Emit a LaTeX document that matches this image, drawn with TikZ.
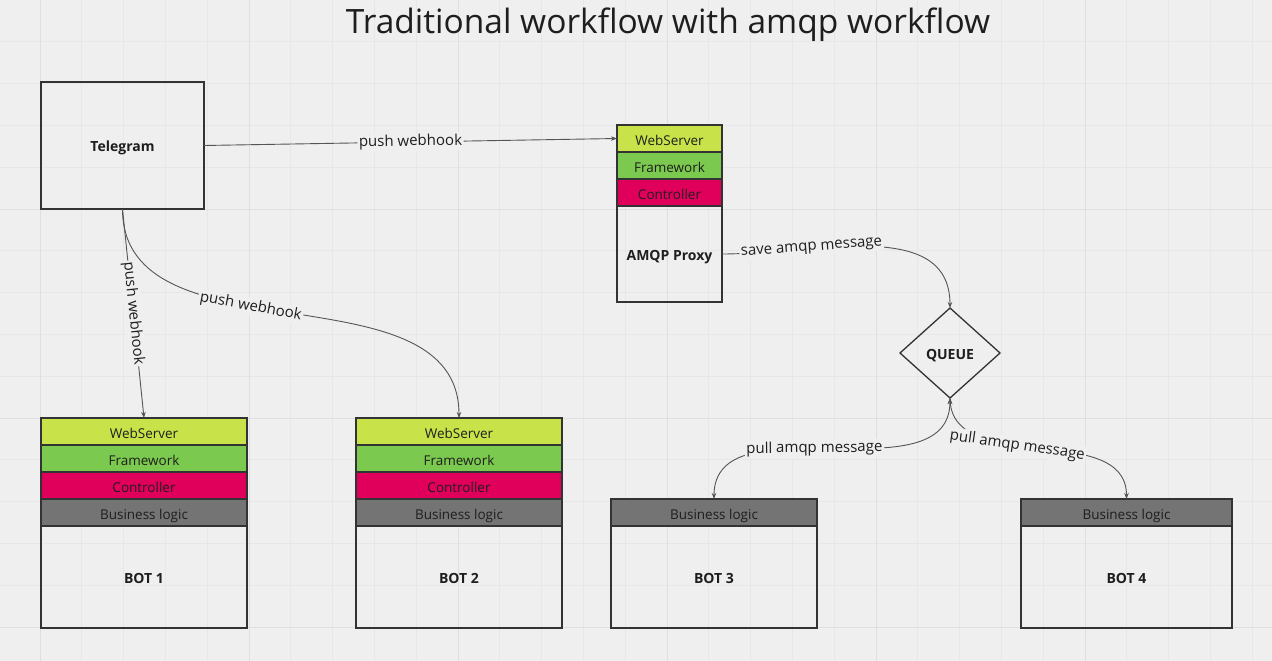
\documentclass[tikz,border=0pt]{standalone}
\usepackage{fontspec}
\setmainfont{Open Sans}
\usepackage{tikz}
\usetikzlibrary{positioning,arrows.meta,shapes.geometric}

\definecolor{bg}{HTML}{EFEFEF}
\definecolor{gridminor}{HTML}{E7E7E7}
\definecolor{gridmajor}{HTML}{DFDFDF}
\definecolor{edge}{HTML}{333333}
\definecolor{wire}{HTML}{555555}
\definecolor{ink}{HTML}{1E1E1E}
\definecolor{webserver}{HTML}{C8E34A}
\definecolor{framework}{HTML}{7BC94E}
\definecolor{controller}{HTML}{E0005B}
\definecolor{business}{HTML}{747474}

\begin{document}
\begin{tikzpicture}[x=1pt,y=-1pt,>={Stealth[length=6pt,width=4.5pt]},
  box/.style={draw=edge,line width=1.3pt,outer sep=0pt,text=ink,text height=12pt,text depth=0pt,
    font=\fontsize{14}{16}\selectfont\bfseries},
  layer/.style={box,font=\fontsize{13.5}{15}\selectfont,text height=13pt,minimum height=27pt,inner sep=0pt},
  flow/.style={draw=wire,line width=0.9pt,->},
  lbl/.style={font=\fontsize{15}{17}\selectfont,fill=bg,inner sep=1.5pt,text=ink,sloped}]

\useasboundingbox[fill=bg] (0,0) rectangle (1272,661);
\foreach \k in {-1,...,29} \draw[gridminor,line width=0.8pt] ({40+41.8*\k},0) -- ++(0,661);
\foreach \k in {1,...,15} \draw[gridminor,line width=0.8pt] (0,{41.8*\k}) -- ++(1272,0);
\foreach \k in {0,...,5} \draw[gridmajor,line width=1pt] ({40+209*\k},0) -- ++(0,661);
\foreach \k in {0,...,3} \draw[gridmajor,line width=1pt] (0,{209*\k}) -- ++(1272,0);

\node[text=ink,font=\fontsize{33.5}{40}\selectfont,text height=24pt,text depth=0pt,inner sep=0pt] (title) at (668,22) {Traditional workflow with amqp workflow};

\node[box,minimum width=163pt,minimum height=127pt] (tg) at (122.5,145.5) {Telegram};

% amqp proxy
\node[layer,fill=webserver,minimum width=105pt] (ws0) at (669.5,138.5) {WebServer};
\node[layer,fill=framework,minimum width=105pt,below=0pt of ws0] (fw0) {Framework};
\node[layer,fill=controller,minimum width=105pt,below=0pt of fw0] (ct0) {Controller};
\node[box,minimum width=105pt,minimum height=96pt,below=0pt of ct0] (proxy) {AMQP Proxy};

\node[box,diamond,minimum width=100pt,minimum height=90pt,inner sep=0pt] (queue) at (950,353) {QUEUE};

% bots
\foreach \i/\x in {1/144,2/459}{
  \node[layer,fill=webserver,minimum width=206pt] (ws\i) at (\x,431.5) {WebServer};
  \node[layer,fill=framework,minimum width=206pt,below=0pt of ws\i] (fw\i) {Framework};
  \node[layer,fill=controller,minimum width=206pt,below=0pt of fw\i] (ct\i) {Controller};
  \node[layer,fill=business,minimum width=206pt,below=0pt of ct\i] (bl\i) {Business logic};
  \node[box,minimum width=206pt,minimum height=102pt,below=0pt of bl\i] (bot\i) {BOT \i};
}
\node[layer,fill=business,minimum width=206pt] (bl3) at (714,512.5) {Business logic};
\node[box,minimum width=206pt,minimum height=102pt,below=0pt of bl3] (bot3) {BOT 3};
\node[layer,fill=business,minimum width=211pt] (bl4) at (1126.5,512.5) {Business logic};
\node[box,minimum width=211pt,minimum height=102pt,below=0pt of bl4] (bot4) {BOT 4};

\path[flow]
(tg.east) edge node [lbl] {push webhook} (ws0.west)
(tg.south) edge node [lbl] {push webhook} (ws1.north)
(tg.south) edge [out=-90,in=90] node [lbl,pos=0.42] {push webhook} (ws2.north)
(proxy.east) edge [out=0,in=90,looseness=1] node [lbl,pos=0.3] {save amqp message} (queue.north)
(queue.south) edge [<->,out=-90,in=90] node [lbl,pos=0.55] {pull amqp message} (bl3.north)
(queue.south) edge [out=-90,in=90] node [lbl,pos=0.42] {pull amqp message} (bl4.north)
;
\end{tikzpicture}
\end{document}
